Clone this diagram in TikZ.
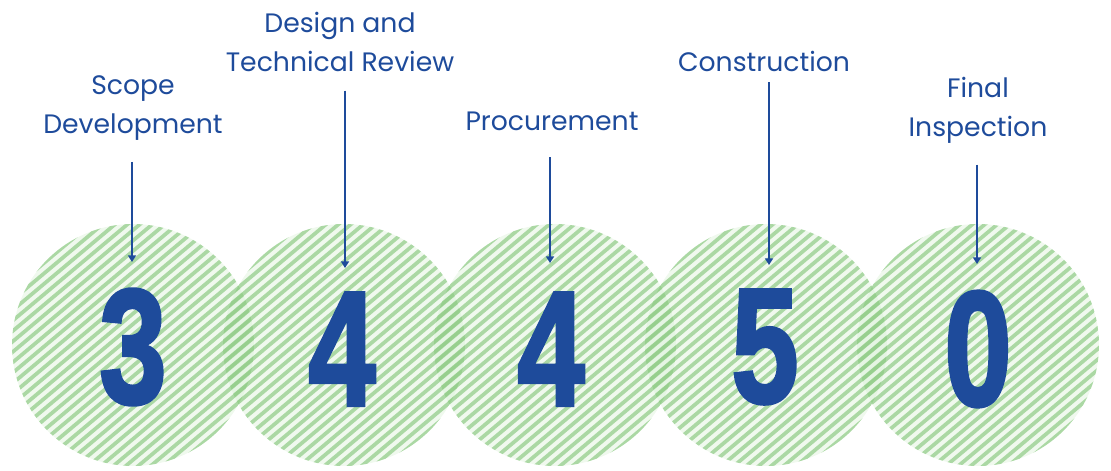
\documentclass[tikz,border=0pt]{standalone}
\usepackage{fontspec}
\setmainfont{Poppins}
\newfontfamily\digitfont[FakeBold=2.5]{Liberation Sans Bold}
\usetikzlibrary{positioning, arrows.meta}

\definecolor{stepblue}{RGB}{30,75,155}
\definecolor{stripegreen}{RGB}{135,200,125}
\definecolor{palegreen}{RGB}{205,235,200}

\tikzset{
    label/.style={text=stepblue, font=\fontsize{20}{29}\selectfont, align=center, inner sep=0pt},
    digit/.style={text=stepblue, font=\digitfont\fontsize{122}{122}\selectfont, xscale=0.74, inner sep=0pt},
    pointer/.style={draw=stepblue, line width=1.4pt, -{Triangle[length=5pt, width=6pt]}},
    stripe/.style={draw=stripegreen, line width=2.8pt, opacity=0.65},
}

\begin{document}
\begin{tikzpicture}[x=0.75pt,y=0.75pt,yscale=-1,xscale=1]
    \useasboundingbox (0,0) rectangle (1111,471);

    % striped discs
    \foreach \cx in {133,344,555,766,978} {
        \begin{scope}[shift={(\cx,345)}, rotate=-40]
            \fill[palegreen, opacity=0.3] (0,0) circle (121);
            \clip (0,0) circle (121);
            \foreach \t in {-128,-120,...,128}
                \draw[stripe] (-135,\t) -- (135,\t);
        \end{scope}
    }

    % numbers
    \node[digit] (d1) at (133,347) {3};
    \node[digit] (d2) at (342,349) {4};
    \node[digit] (d3) at (551,349) {4};
    \node[digit] (d4) at (765,347) {5};
    \node[digit] (d5) at (978,349) {0};

    % labels
    \node[label] (l1) at (133,108) {Scope\\Development};
    \node[label] (l2) at (340,42) {Design and\\Technical Review};
    \node[label] (l3) at (552,121) {Procurement};
    \node[label] (l4) at (764,61) {Construction};
    \node[label] (l5) at (978,110) {Final\\Inspection};

    % arrow ends
    \coordinate (e1) at (132,262);
    \coordinate (e2) at (345,268);
    \coordinate (e3) at (550,263);
    \coordinate (e4) at (769,265);
    \coordinate (e5) at (977,264);

    % pointers
    \draw[pointer, shorten <=16pt] (l1.south -| e1) -- (e1);
    \draw[pointer, shorten <=14pt] (l2.south -| e2) -- (e2);
    \draw[pointer, shorten <=20pt] (l3.south -| e3) -- (e3);
    \draw[pointer, shorten <=8pt] (l4.south -| e4) -- (e4);
    \draw[pointer, shorten <=16pt] (l5.south -| e5) -- (e5);

\end{tikzpicture}
\end{document}
